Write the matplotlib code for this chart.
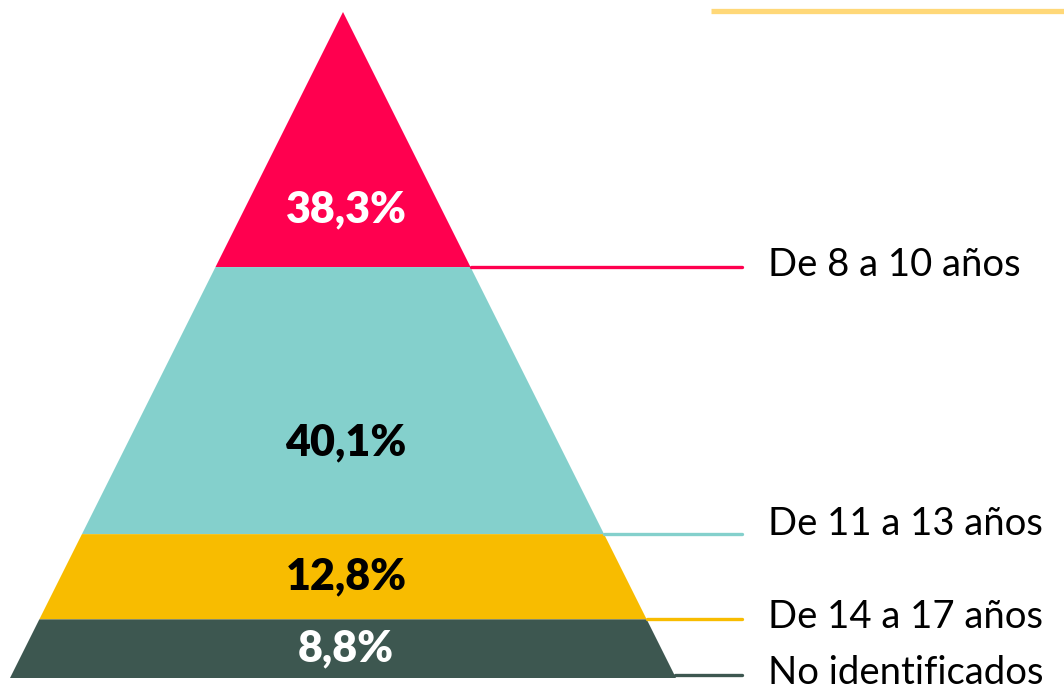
import matplotlib
matplotlib.use('Agg')
import matplotlib.pyplot as plt
import numpy as np

# data, top of pyramid to base
categories = ['De 8 a 10 años', 'De 11 a 13 años', 'De 14 a 17 años', 'No identificados']
values = [38.3, 40.1, 12.8, 8.8]
value_labels = ['38,3%', '40,1%', '12,8%', '8,8%']

band_colors = ['#FF004F', '#84D0CC', '#F8BC00', '#3D5750']
text_colors = ['white', 'black', 'black', 'white']
label_pos = [0.775, 0.655, 0.5, 0.5]   # where the % sits inside each band

W, H = 1064, 694
APEX = (343, 12)
BASE_Y = 678
BASE_HALF = 333
LINE_END = 742
TEXT_X = 768

fig = plt.figure(figsize=(W / 100, H / 100), dpi=100, facecolor='white')
ax = fig.add_axes([0, 0, 1, 1])
ax.set_xlim(0, W)
ax.set_ylim(H, 0)
ax.axis('off')

height = BASE_Y - APEX[1]
total = sum(values)


def half_width(y):
    return BASE_HALF * (y - APEX[1]) / height


cum = np.concatenate([[0], np.cumsum(values)])
for i, (v, col) in enumerate(zip(values, band_colors)):
    y0 = APEX[1] + cum[i] / total * height
    y1 = APEX[1] + cum[i + 1] / total * height
    w0, w1 = half_width(y0), half_width(y1)
    xs = [APEX[0] - w0, APEX[0] + w0, APEX[0] + w1, APEX[0] - w1]
    ys = [y0, y0, y1, y1]
    ax.fill(xs, ys, color=col, lw=0, zorder=2)

    # percentage inside band
    yt = y0 + (y1 - y0) * label_pos[i]
    ax.text(APEX[0] + 3, yt, value_labels[i], color=text_colors[i],
            fontsize=31, fontweight='heavy', family=['Lato', 'DejaVu Sans'],
            ha='center', va='center', zorder=4)

    # leader line from band edge to label
    yl = y1 - (3 if i == len(values) - 1 else 0)
    xl = APEX[0] + half_width(yl)
    ax.plot([xl, LINE_END], [yl, yl], color=col, lw=2.4,
            solid_capstyle='round', zorder=3)
    ty = yl - (10 if i == 1 else 2)
    ax.text(TEXT_X, ty, categories[i], color='black', fontsize=27.5,
            family=['Lato', 'DejaVu Sans'], ha='left', va='center', zorder=4)

# yellow rule top-right
ax.plot([711, W], [11, 11], color='#FFD878', lw=3.8, solid_capstyle='butt')

fig.savefig('out.png', dpi=100, facecolor='white')
